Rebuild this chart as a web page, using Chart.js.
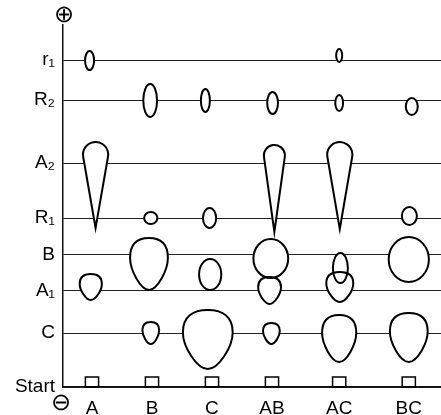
<!DOCTYPE html>
<html lang="en">
<head>
    <meta charset="UTF-8">
    <title>Electrophoresis lanes</title>
    <script src="https://cdn.jsdelivr.net/npm/chart.js"></script>
    <style>
        body { margin: 0; background: #fff; }
    </style>
</head>
<body>
    <canvas id="chart" width="441" height="415"></canvas>

    <script>
        // lanes (samples) and bands, positions in axis units
        const laneNames = ["A", "B", "C", "AB", "AC", "BC"];
        const lanePos = [1, 2, 3, 4, 5.12, 6.28];
        const bandNames = ["r₁", "R₂", "A₂", "R₁", "B", "A₁", "C", "Start"];
        const bandPos = [32.7, 28.7, 22.4, 16.9, 13.25, 9.65, 5.4, 0];

        // spots: centre x (lane units), top / bottom (migration units), width (lane units)
        const spotX      = [0.96, 1.06, 0.98,  1.97, 1.98, 1.95, 1.98,  2.89, 2.96, 2.97, 2.93,  4.01, 4.04, 3.98, 3.96, 3.99,  5.12, 5.12, 5.13, 5.14, 5.13, 5.12,  6.33, 6.29, 6.28, 6.28];
        const spotTop    = [33.6, 24.5, 11.3,  30.3, 17.5, 14.9, 6.5,   29.8, 17.9, 12.8, 7.7,   29.5, 24.2, 14.8, 11.0, 6.4,   33.8, 29.2, 24.5, 13.4, 11.5, 7.2,   28.9, 18.0, 15.0, 7.4];
        const spotBottom = [31.7, 15.9, 8.7,   27.0, 16.3, 9.7,  4.3,   27.5, 15.9, 9.7,  1.8,   27.3, 15.5, 10.9, 8.3,  4.3,   32.5, 27.6, 15.8, 10.4, 8.5,  2.5,   27.2, 16.2, 10.5, 2.5];
        const spotWidth  = [0.15, 0.42, 0.37,  0.23, 0.22, 0.63, 0.28,  0.15, 0.22, 0.37, 0.83,  0.18, 0.35, 0.58, 0.38, 0.28,  0.10, 0.13, 0.42, 0.25, 0.45, 0.57,  0.20, 0.25, 0.67, 0.63];
        const spotShape  = ["ellipse", "tear", "drop",
                            "ellipse", "ellipse", "drop", "drop",
                            "ellipse", "ellipse", "ellipse", "drop",
                            "ellipse", "tear", "ellipse", "drop", "drop",
                            "ellipse", "ellipse", "tear", "ellipse", "drop", "drop",
                            "ellipse", "ellipse", "ellipse", "drop"];

        function spotPath(ctx, shape, l, r, t, b) {
            const cx = (l + r) / 2, w = r - l, h = b - t;
            ctx.beginPath();
            if (shape === "ellipse") {
                ctx.ellipse(cx, (t + b) / 2, w / 2, h / 2, 0, 0, Math.PI * 2);
            } else if (shape === "tear") {
                const rad = w / 2, cy = t + rad;
                const th = Math.acos(rad / (b - cy));
                const a1 = Math.PI / 2 + th, a2 = Math.PI / 2 - th;
                ctx.moveTo(cx, b);
                ctx.lineTo(cx + rad * Math.cos(a1), cy + rad * Math.sin(a1));
                ctx.arc(cx, cy, rad, a1, a2, false);
                ctx.closePath();
            } else {
                ctx.moveTo(cx, b);
                ctx.bezierCurveTo(cx - w * 0.22, b, l, t + h * 0.62, l, t + h * 0.38);
                ctx.bezierCurveTo(l, t + h * 0.1, cx - w * 0.28, t, cx, t);
                ctx.bezierCurveTo(cx + w * 0.28, t, r, t + h * 0.1, r, t + h * 0.38);
                ctx.bezierCurveTo(r, t + h * 0.62, cx + w * 0.22, b, cx, b);
                ctx.closePath();
            }
        }

        // draws the spots, start wells and the +/- signs
        const spotsPlugin = {
            id: "spots",
            afterDraw(chart) {
                const ctx = chart.ctx;
                const xs = chart.scales.x, ys = chart.scales.y;
                const boxes = spotX.map((x, i) => ({
                    l: xs.getPixelForValue(x - spotWidth[i] / 2),
                    r: xs.getPixelForValue(x + spotWidth[i] / 2),
                    t: ys.getPixelForValue(spotTop[i]),
                    b: ys.getPixelForValue(spotBottom[i])
                }));
                ctx.save();
                // fill first so overlapping outlines stay visible
                ctx.fillStyle = "#fff";
                boxes.forEach((bx, i) => { spotPath(ctx, spotShape[i], bx.l, bx.r, bx.t, bx.b); ctx.fill(); });
                ctx.strokeStyle = "#000";
                ctx.lineWidth = 2;
                boxes.forEach((bx, i) => { spotPath(ctx, spotShape[i], bx.l, bx.r, bx.t, bx.b); ctx.stroke(); });

                // start wells
                ctx.lineWidth = 1.5;
                lanePos.forEach(x => {
                    const l = xs.getPixelForValue(x - 0.11), r = xs.getPixelForValue(x + 0.11);
                    const t = ys.getPixelForValue(1.0), b = ys.getPixelForValue(0);
                    ctx.strokeRect(l, t, r - l, b - t);
                });

                ctx.fillStyle = "#000";
                ctx.font = "200 24px 'DejaVu Sans'";
                ctx.textAlign = "center";
                ctx.textBaseline = "middle";
                ctx.fillText("⊕", chart.chartArea.left + 0.5, 16);
                ctx.fillText("⊖", chart.chartArea.left - 2.5, 404);
                ctx.restore();
            }
        };

        const labelFont = { family: "'Liberation Sans', Arial, sans-serif", size: 19 };

        new Chart(document.getElementById("chart"), {
            type: "scatter",
            data: { datasets: [{ data: [], pointRadius: 0 }] },
            options: {
                responsive: false,
                animation: false,
                layout: { padding: { top: 25, left: 0, right: 0, bottom: 0 } },
                plugins: { legend: { display: false }, tooltip: { enabled: false } },
                scales: {
                    x: {
                        type: "linear",
                        min: 0.517,
                        max: 6.817,
                        afterBuildTicks: s => { s.ticks = lanePos.map(v => ({ value: v })); },
                        afterFit: s => { s.height = 28; },
                        ticks: {
                            callback: (v, i) => laneNames[i],
                            autoSkip: false,
                            maxRotation: 0,
                            padding: 2,
                            color: "#000",
                            font: labelFont
                        },
                        grid: { display: false },
                        border: { display: true, color: "#111", width: 1.5 }
                    },
                    y: {
                        min: 0,
                        max: 36.2,
                        afterBuildTicks: s => { s.ticks = bandPos.map(v => ({ value: v })); },
                        afterFit: s => { s.width = 63; },
                        ticks: {
                            callback: (v, i) => bandNames[i],
                            autoSkip: false,
                            padding: 8,
                            color: "#000",
                            font: labelFont
                        },
                        grid: { color: "#222", lineWidth: 1, drawTicks: false },
                        border: { display: true, color: "#111", width: 1.5 }
                    }
                }
            },
            plugins: [spotsPlugin]
        });
    </script>
</body>
</html>
